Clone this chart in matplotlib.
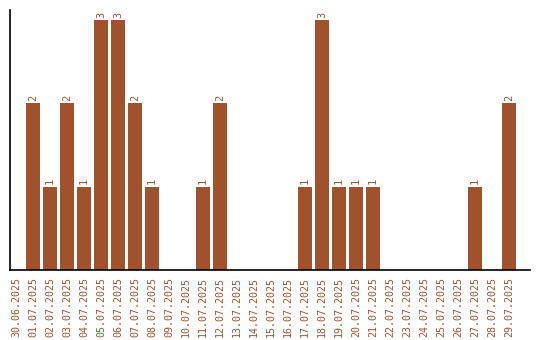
import matplotlib
matplotlib.use("Agg")
import matplotlib.pyplot as plt

dates = ["30.06.2025", "01.07.2025", "02.07.2025", "03.07.2025", "04.07.2025",
         "05.07.2025", "06.07.2025", "07.07.2025", "08.07.2025", "09.07.2025",
         "10.07.2025", "11.07.2025", "12.07.2025", "13.07.2025", "14.07.2025",
         "15.07.2025", "16.07.2025", "17.07.2025", "18.07.2025", "19.07.2025",
         "20.07.2025", "21.07.2025", "22.07.2025", "23.07.2025", "24.07.2025",
         "25.07.2025", "26.07.2025", "27.07.2025", "28.07.2025", "29.07.2025"]
counts = [0, 2, 1, 2, 1, 3, 3, 2, 1, 0,
          0, 1, 2, 0, 0, 0, 0, 1, 3, 1,
          1, 1, 0, 0, 0, 0, 0, 1, 0, 2]

color = "#A0522D"
fig = plt.figure(figsize=(5.4, 3.4), dpi=100)
ax = fig.add_axes([10/540, 70/340, 520/540, 260/340])
x = list(range(len(dates)))
bars = ax.bar(x, counts, width=0.82, color=color)
for xi, v in zip(x, counts):
    if v > 0:
        ax.text(xi, v + 0.03, str(v), rotation=90, ha="center", va="bottom",
                fontsize=7.5, color=color, family="DejaVu Sans Mono")
ax.set_xlim(-0.35, 30.25)
ax.set_ylim(0, 3.12)
ax.set_xticks(x)
ax.set_xticklabels(dates, rotation=90, fontsize=7.2, color=color, family="DejaVu Sans Mono")
ax.tick_params(axis="x", length=0, pad=5)
ax.set_yticks([])
ax.spines["top"].set_visible(False)
ax.spines["right"].set_visible(False)
ax.spines["left"].set_linewidth(1.2)
ax.spines["bottom"].set_linewidth(1.2)
fig.savefig("out.png", dpi=100)
